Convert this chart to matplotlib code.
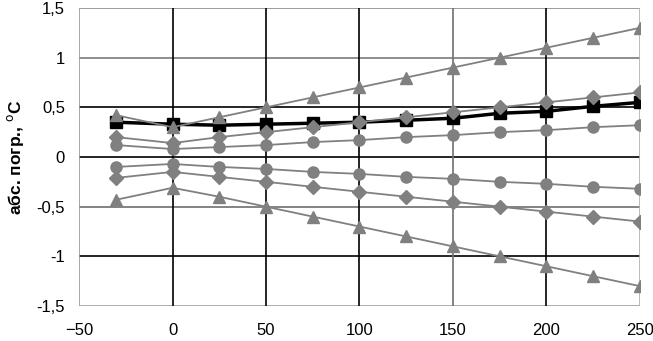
import numpy as np
import matplotlib.pyplot as plt
from matplotlib.ticker import FuncFormatter

plt.rcParams['font.family'] = ['Liberation Sans', 'DejaVu Sans']

t = [-30, 0, 25, 50, 75, 100, 125, 150, 175, 200, 225, 250]

tri_up = [0.42, 0.30, 0.40, 0.50, 0.60, 0.70, 0.80, 0.90, 1.00, 1.10, 1.20, 1.30]
tri_dn = [-0.43, -0.31, -0.40, -0.50, -0.60, -0.70, -0.80, -0.90, -1.00, -1.10, -1.20, -1.30]
dia_up = [0.20, 0.14, 0.20, 0.25, 0.30, 0.35, 0.40, 0.45, 0.50, 0.55, 0.60, 0.65]
dia_dn = [-0.21, -0.15, -0.20, -0.25, -0.30, -0.35, -0.40, -0.45, -0.50, -0.55, -0.60, -0.65]
cir_up = [0.12, 0.08, 0.10, 0.12, 0.15, 0.17, 0.20, 0.22, 0.25, 0.27, 0.30, 0.32]
cir_dn = [-0.10, -0.07, -0.10, -0.12, -0.15, -0.17, -0.20, -0.22, -0.25, -0.27, -0.30, -0.32]
measured = [0.35, 0.33, 0.32, 0.33, 0.34, 0.35, 0.37, 0.39, 0.44, 0.46, 0.51, 0.55]

fig = plt.figure(figsize=(6.53, 3.41), dpi=100)
ax = fig.add_axes([0.121, 0.1026, 0.859, 0.874])

# grid lines (scan has mixed black / grey lines)
hgrid = {1.5: '#8c8c8c', 1.0: '#7a7a7a', 0.5: 'black', 0.0: 'black',
         -0.5: '#6e6e6e', -1.0: 'black', -1.5: '#a0a0a0'}
vgrid = {-50: '#9a9a9a', 0: 'black', 50: 'black', 100: 'black',
         150: '#707070', 200: 'black', 250: '#b0b0b0'}
for y, c in hgrid.items():
    ax.axhline(y, color=c, lw=1.2, zorder=1)
for x, c in vgrid.items():
    ax.axvline(x, color=c, lw=1.2, zorder=1)

grey = '#808080'
ax.plot(t, tri_up, color=grey, marker='^', ms=9, lw=1.3, zorder=3)
ax.plot(t, tri_dn, color=grey, marker='^', ms=9, lw=1.3, zorder=3)
ax.plot(t, dia_up, color=grey, marker='D', ms=7, lw=1.3, zorder=3)
ax.plot(t, dia_dn, color=grey, marker='D', ms=7, lw=1.3, zorder=3)
ax.plot(t, cir_up, color=grey, marker='o', ms=8, lw=1.3, zorder=3)
ax.plot(t, cir_dn, color=grey, marker='o', ms=8, lw=1.3, zorder=3)
ax.plot(t, measured, color='black', marker='s', ms=9, lw=2.5, zorder=2.5)

ax.set_xlim(-50, 250)
ax.set_ylim(-1.5, 1.5)
ax.set_xticks([-50, 0, 50, 100, 150, 200, 250])
ax.set_yticks([-1.5, -1, -0.5, 0, 0.5, 1, 1.5])
ax.yaxis.set_major_formatter(FuncFormatter(lambda v, p: ('%g' % v).replace('.', ',')))
ax.tick_params(length=0, labelsize=12, colors='black')
ax.tick_params(axis='x', pad=12)
ax.tick_params(axis='y', pad=10)
for s in ax.spines.values():
    s.set_visible(False)

ax.set_ylabel('абс. погр., $^{\\mathrm{o}}$C', fontsize=12.5, fontweight='bold', labelpad=8)

fig.savefig('out.png', dpi=100)
